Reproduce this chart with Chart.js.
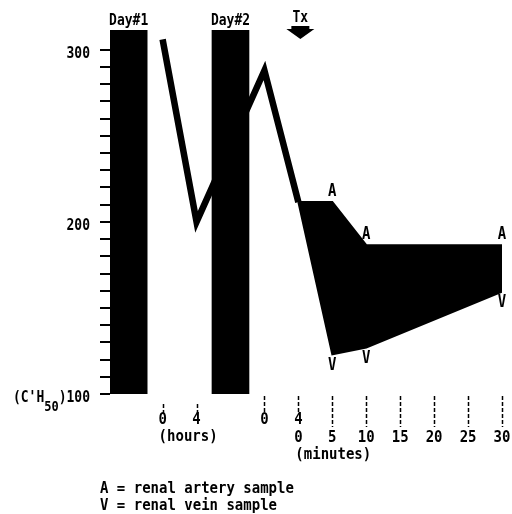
<!DOCTYPE html>
<html><head><meta charset="utf-8">
<script src="https://cdn.jsdelivr.net/npm/chart.js@4/dist/chart.umd.min.js"></script>
<style>html,body{margin:0;padding:0;background:#fff;}#wrap{width:512px;height:514px;}</style>
</head><body><div id="wrap"><canvas id="c" width="512" height="514"></canvas></div>
<script>
// ---- data ----
const dayLabels = ['Day#1', 'Day#2'];
const dayBreakPos = [-1, 2];            // timeline position of each day band
const day1Hours = [0, 4];
const day1Values = [306, 200];
const day2Hours = [0, 4];
const day2Values = [288, 211.5];
const minutes = [0, 5, 10, 30];
const arteryValues = [211.5, 211.5, 186.5, 186.5];
const veinValues = [211.5, 123, 127, 159.5];
const yMajorTicks = [100, 200, 300];
const yMinorStep = 10;
const hourTicks = [0, 4];
const minuteTicks = [0, 5, 10, 15, 20, 25, 30];
const legendLines = ['A = renal artery sample', 'V = renal vein sample'];

// ---- timeline mapping (axis units) ----
const DAY1_START = 0, DAY2_START = 3, MIN_START = 4, HOUR_UNIT = 0.25, MIN_UNIT = 0.2;
const tDay1 = h => DAY1_START + h * HOUR_UNIT;
const tDay2 = h => DAY2_START + h * HOUR_UNIT;
const tMin = m => MIN_START + m * MIN_UNIT;
const Y_MIN = 100, Y_MAX = 311.5;

const mainLine = [
  ...day1Hours.map((h, i) => ({x: tDay1(h), y: day1Values[i]})),
  ...day2Hours.map((h, i) => ({x: tDay2(h), y: day2Values[i]}))
];
const artery = minutes.map((m, i) => ({x: tMin(m), y: arteryValues[i]}));
const vein = minutes.map((m, i) => ({x: tMin(m), y: veinValues[i]}));
const bands = dayBreakPos.map(p => ({x: p, y: [Y_MIN, Y_MAX]}));

const FONT = '"DejaVu Sans Mono", monospace';

// draw text slightly stretched vertically (condensed look of the original lettering)
function tallText(ctx, t, x, y, sy) {
  ctx.save(); ctx.translate(x, y); ctx.scale(1, sy); ctx.fillText(t, 0, 0); ctx.restore();
}

const annot = {
  id: 'annot',
  afterDatasetsDraw(chart) {
    const ctx = chart.ctx, xs = chart.scales.x, ys = chart.scales.y, ca = chart.chartArea;
    ctx.save();
    ctx.fillStyle = '#000'; ctx.strokeStyle = '#000';
    // y ticks
    ctx.lineWidth = 2;
    for (let v = Y_MIN; v <= 300; v += yMinorStep) {
      const py = Math.round(ys.getPixelForValue(v));
      ctx.beginPath(); ctx.moveTo(ca.left - 10, py); ctx.lineTo(ca.left, py); ctx.stroke();
    }
    // y labels
    ctx.textAlign = 'right'; ctx.textBaseline = 'middle';
    const lx = ca.left - 20;
    const F13 = 'bold 13px ' + FONT, F14 = 'bold 14px ' + FONT;
    yMajorTicks.forEach(v => {
      const py = ys.getPixelForValue(v) + 4;
      if (v === Y_MIN) {
        const main = ')' + v;
        ctx.font = F13;
        tallText(ctx, main, lx, py, 1.2);
        const w1 = ctx.measureText(main).width;
        ctx.font = 'bold 12px ' + FONT;
        tallText(ctx, '50', lx - w1, py + 9, 1.2);
        const w2 = ctx.measureText('50').width;
        ctx.font = F13;
        tallText(ctx, "(C'H", lx - w1 - w2, py, 1.2);
      } else {
        ctx.font = F13;
        tallText(ctx, String(v), lx, py, 1.2);
      }
    });
    // day labels
    ctx.font = F13;
    ctx.textAlign = 'center';
    dayLabels.forEach((t, i) => tallText(ctx, t, xs.getPixelForValue(dayBreakPos[i]), ca.top - 9, 1.2));
    // Tx arrow
    const tx = xs.getPixelForValue(tMin(0)) + 2;
    tallText(ctx, 'Tx', tx, 18, 1.2);
    ctx.beginPath();
    ctx.moveTo(tx - 9, 26); ctx.lineTo(tx + 9, 26); ctx.lineTo(tx + 9, 29); ctx.lineTo(tx + 14, 29);
    ctx.lineTo(tx, 39); ctx.lineTo(tx - 14, 29); ctx.lineTo(tx - 9, 29); ctx.closePath(); ctx.fill();
    // x tick marks
    const bot = ca.bottom;
    ctx.lineWidth = 1.5;
    ctx.setLineDash([4, 2]);
    const tick = (px, y0, y1) => { ctx.beginPath(); ctx.moveTo(px, y0); ctx.lineTo(px, y1); ctx.stroke(); };
    hourTicks.forEach(h => tick(Math.round(xs.getPixelForValue(tDay1(h))) + 0.5, bot + 10, bot + 20));
    hourTicks.forEach(h => tick(Math.round(xs.getPixelForValue(tDay2(h))) + 0.5, bot + 2, bot + 18));
    minuteTicks.forEach(m => { if (m > 0) tick(Math.round(xs.getPixelForValue(tMin(m))) + 0.5, bot + 2, bot + 33); });
    ctx.setLineDash([]);
    // x labels
    ctx.font = F14;
    ctx.textAlign = 'center';
    hourTicks.forEach(h => tallText(ctx, String(h), xs.getPixelForValue(tDay1(h)), bot + 26, 1.15));
    hourTicks.forEach(h => tallText(ctx, String(h), xs.getPixelForValue(tDay2(h)), bot + 26, 1.15));
    minuteTicks.forEach(m => tallText(ctx, String(m), xs.getPixelForValue(tMin(m)), bot + 44, 1.15));
    ctx.textAlign = 'left';
    tallText(ctx, '(hours)', xs.getPixelForValue(tDay1(0)) - 4, bot + 43, 1.15);
    tallText(ctx, '(minutes)', xs.getPixelForValue(tMin(0)) - 3, bot + 61, 1.15);
    // A / V labels
    ctx.font = 'bold 14px ' + FONT;
    ctx.textAlign = 'center';
    chart.getDatasetMeta(2).data.forEach((p, j) => { if (j > 0) tallText(ctx, 'A', p.x, p.y - 10, 1.2); });
    chart.getDatasetMeta(3).data.forEach((p, j) => { if (j > 0) tallText(ctx, 'V', p.x, p.y + 11, 1.2); });
    // legend
    ctx.font = F14;
    ctx.textAlign = 'left';
    legendLines.forEach((t, i) => tallText(ctx, t, ca.left - 10, bot + 95 + i * 17, 1.1));
    ctx.restore();
  }
};

new Chart(document.getElementById('c'), {
  type: 'line',
  data: {
    datasets: [
      {type: 'bar', data: bands, backgroundColor: '#000', borderWidth: 0, barThickness: 37, grouped: false},
      {data: mainLine, borderColor: '#000', borderWidth: 6.5, pointRadius: 0, fill: false, tension: 0, borderJoinStyle: 'miter', borderCapStyle: 'butt'},
      {data: artery, borderColor: '#000', borderWidth: 2, pointRadius: 0, fill: '+1', backgroundColor: '#000', tension: 0},
      {data: vein, borderColor: '#000', borderWidth: 2, pointRadius: 0, fill: false, tension: 0}
    ]
  },
  options: {
    responsive: false,
    animation: false,
    layout: {padding: {left: 110, right: 10, top: 30, bottom: 120}},
    plugins: {legend: {display: false}, tooltip: {enabled: false}},
    scales: {
      x: {type: 'linear', display: false, min: -1.55, max: 10, offset: false},
      y: {type: 'linear', display: false, min: Y_MIN, max: Y_MAX}
    }
  },
  plugins: [annot]
});
</script></body></html>
